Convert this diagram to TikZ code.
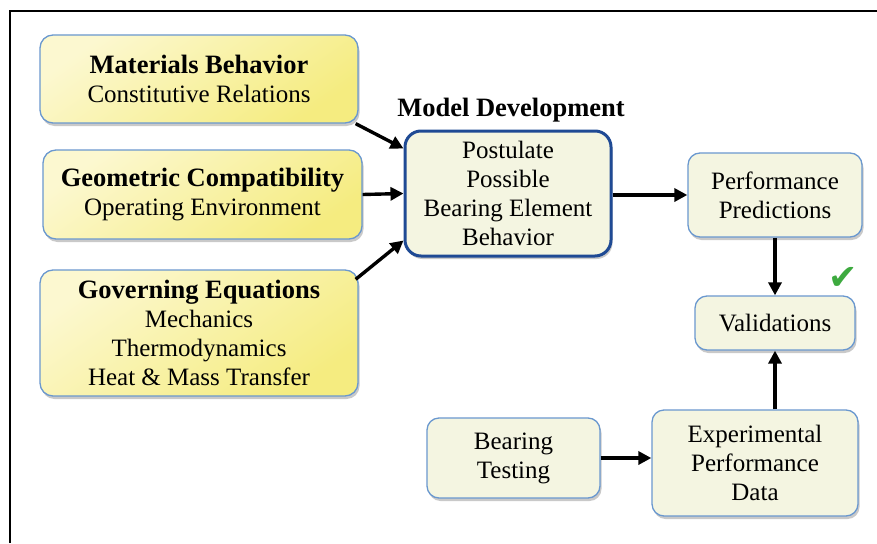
\documentclass[tikz,border=0pt]{standalone}
\usepackage{fontspec}
\setmainfont{Liberation Serif}
\newfontfamily\symfont{DejaVu Sans}
\usetikzlibrary{shadows,arrows.meta,calc}
\definecolor{ylite}{HTML}{FCF8D0}
\definecolor{ydark}{HTML}{F5EC80}
\definecolor{bbord}{HTML}{6A98CF}
\definecolor{cream}{HTML}{F4F5E1}
\definecolor{dblue}{HTML}{1F4A94}
\definecolor{chk}{HTML}{3DAA3F}
\newcommand{\bhead}[1]{{\bfseries\fontsize{26.5}{29}\selectfont #1}}
\tikzset{
  ybox/.style={draw=bbord, line width=1.3pt, rounded corners=13pt, align=center,
    top color=ylite, bottom color=ydark, shading angle=35,
    drop shadow={shadow xshift=1.5pt, shadow yshift=-3pt, opacity=0.35, fill=black!60},
    font=\fontsize{25}{29}\selectfont, inner sep=2pt},
  cbox/.style={draw=bbord, line width=1.3pt, rounded corners=12pt, align=center,
    fill=cream,
    drop shadow={shadow xshift=1.5pt, shadow yshift=-3pt, opacity=0.35, fill=black!60},
    font=\fontsize{25}{29}\selectfont, inner sep=2pt},
  arr/.style={line width=3.4pt, -{Triangle[length=13pt,width=13pt]}}
}
\begin{document}
\begin{tikzpicture}[x=1pt,y=-1pt]
\useasboundingbox (0,0) rectangle (877,543);
\fill[white] (0,0) rectangle (877,543);
\draw[line width=2.5pt] (10,543) -- (10,11) -- (877,11);

\node[ybox, minimum width=318pt, minimum height=88pt] (mat) at (199,79)
  {\bhead{Materials Behavior}\\Constitutive Relations};
\node[ybox, minimum width=319pt, minimum height=89pt] (geo) at (202.5,194.5)
  {\bhead{Geometric Compatibility}\\Operating Environment};
\node[ybox, minimum width=318pt, minimum height=126pt] (gov) at (199,333)
  {\bhead{Governing Equations}\\Mechanics\\Thermodynamics\\Heat \& Mass Transfer};

\node[font=\bfseries\fontsize{26.5}{29}\selectfont] (title) at (511,110) {Model Development};
\node[cbox, draw=dblue, line width=3pt, rounded corners=16pt, minimum width=206pt, minimum height=125pt] (post) at (508,193.5)
  {Postulate\\Possible\\Bearing Element\\Behavior};

\node[cbox, minimum width=174pt, minimum height=84pt] (perf) at (775,195)
  {Performance\\Predictions};
\node[cbox, minimum width=160pt, minimum height=54pt] (val) at (775,323)
  {Validations};
\node[cbox, minimum width=206pt, minimum height=106pt] (exp) at (755,463)
  {Experimental\\Performance\\Data};
\node[cbox, minimum width=173pt, minimum height=80pt] (bt) at (513.5,458)
  {Bearing\\Testing};

\node[text=chk, font=\symfont\fontsize{35}{35}\selectfont] (check) at (843,278) {✔};

\draw[arr] ($(mat.south east)+(-3,0)$) -- ($(post.west)+(0,-45)$);
\draw[arr] (geo.east) -- (post.west);
\draw[arr] ($(gov.north east)+(-3,10)$) -- ($(post.west)+(0,47)$);
\draw[arr] (post.east |- perf.west) -- (perf.west);
\draw[arr] (perf.south) -- (val.north);
\draw[arr] (exp.north -| val.south) -- (val.south);
\draw[arr] (bt.east) -- (bt.east -| exp.west);
\end{tikzpicture}
\end{document}
